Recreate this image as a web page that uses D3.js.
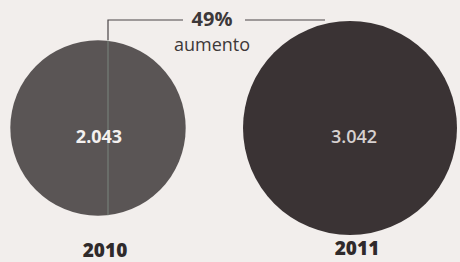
<!DOCTYPE html>
<html>
<head>
<meta charset="utf-8">
<script src="https://cdn.jsdelivr.net/npm/d3@7"></script>
<style>
  html, body { margin: 0; padding: 0; background: #f2eeec; }
  svg { display: block; }
</style>
</head>
<body>
<div id="chart"></div>
<script>
// values
const years = ["2010", "2011"];
const totals = [2043, 3042];
const valueLabels = ["2.043", "3.042"];
const changeLabel = "49%";
const changeNote = "aumento";

const width = 460, height = 262;
const svg = d3.select("#chart").append("svg")
  .attr("width", width).attr("height", height);

svg.append("rect").attr("width", width).attr("height", height).attr("fill", "#f2eeec");

const x = d3.scalePoint().domain(years).range([98, 350]);
const r = d3.scaleSqrt().domain([0, d3.max(totals)]).range([0, 107]);
const cy = 128;
const fills = ["#5a5555", "#3a3334"];

const data = years.map((y, i) => ({ year: y, value: totals[i], label: valueLabels[i] }));

svg.selectAll(".bubble")
  .data(data)
  .enter()
  .append("circle")
  .attr("class", "bubble")
  .attr("cx", d => x(d.year))
  .attr("cy", cy)
  .attr("r", d => r(d.value))
  .attr("fill", (d, i) => fills[i]);

// leader line marking the increase
const lx = x(years[0]) + 10;
const ly = 20;
svg.append("path")
  .attr("d", `M${lx},${cy - r(totals[0])}V${ly}H183`)
  .attr("fill", "none")
  .attr("stroke", "#4a4546")
  .attr("stroke-width", 1.2);
svg.append("line")
  .attr("x1", 245).attr("x2", 325)
  .attr("y1", ly).attr("y2", ly)
  .attr("stroke", "#4a4546")
  .attr("stroke-width", 1.2);
// faint line continuing through the small circle
svg.append("line")
  .attr("x1", lx).attr("x2", lx)
  .attr("y1", cy - r(totals[0])).attr("y2", cy + r(totals[0]))
  .attr("stroke", "#8fa79a")
  .attr("stroke-opacity", 0.6)
  .attr("stroke-width", 1);

svg.append("text")
  .attr("x", 212).attr("y", 26)
  .attr("text-anchor", "middle")
  .style("font-family", "'Open Sans', sans-serif")
  .style("font-weight", "bold")
  .style("font-size", "20px")
  .attr("fill", "#3d3839")
  .text(changeLabel);

svg.append("text")
  .attr("x", 212).attr("y", 51)
  .attr("text-anchor", "middle")
  .style("font-family", "'Open Sans', sans-serif")
  .style("font-size", "18px")
  .attr("fill", "#3d3839")
  .text(changeNote);

svg.selectAll(".value")
  .data(data)
  .enter()
  .append("text")
  .attr("class", "value")
  .attr("x", (d, i) => x(d.year) + (i === 0 ? 1 : 4))
  .attr("y", 143)
  .attr("text-anchor", "middle")
  .style("font-family", "'Open Sans', sans-serif")
  .style("font-size", "18px")
  .style("font-weight", (d, i) => i === 0 ? "bold" : "600")
  .attr("fill", (d, i) => i === 0 ? "#f4f1f0" : "#d6d1d0")
  .text(d => d.label);

svg.selectAll(".year")
  .data(data)
  .enter()
  .append("text")
  .attr("class", "year")
  .attr("x", d => x(d.year) + 7)
  .attr("y", (d, i) => i === 0 ? 257 : 255)
  .attr("text-anchor", "middle")
  .style("font-family", "'Open Sans', sans-serif")
  .style("font-weight", "800")
  .style("font-size", "19px")
  .attr("fill", "#2f2a2b")
  .text(d => d.year);
</script>
</body>
</html>
